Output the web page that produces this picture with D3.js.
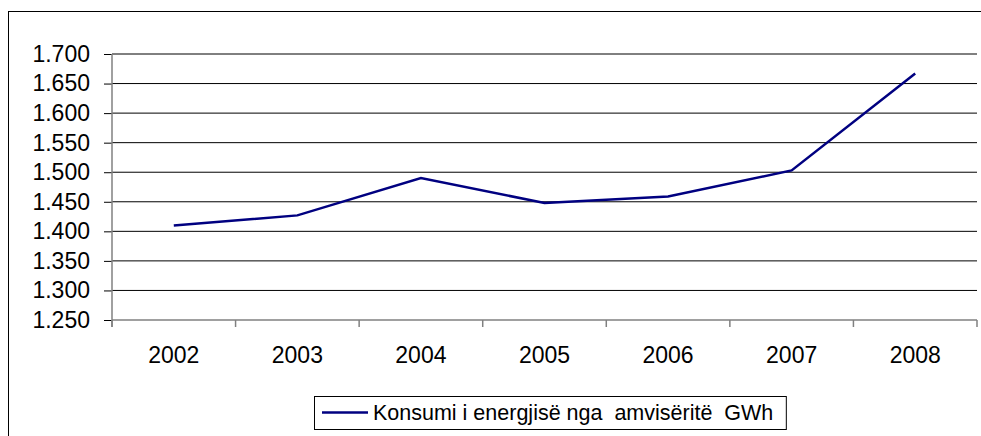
<!DOCTYPE html>
<html>
<head>
<meta charset="utf-8">
<script src="https://cdn.jsdelivr.net/npm/d3@7"></script>
<style>
  html, body { margin: 0; padding: 0; background: #fff; }
  svg { display: block; }
  text { font-family: "Liberation Sans", Arial, sans-serif; }
</style>
</head>
<body>
<svg id="chart" width="981" height="436"></svg>
<script>
const years = ["2002", "2003", "2004", "2005", "2006", "2007", "2008"];
const consumption = [1410, 1427, 1490, 1448, 1459, 1503, 1667];
const yTicks = [1250, 1300, 1350, 1400, 1450, 1500, 1550, 1600, 1650, 1700];
const seriesName = "Konsumi i energjisë nga  amvisëritë  GWh";

(function () {
const svg = d3.select("#chart");
const fontSize = 23;

// outer frame
svg.append("rect")
  .attr("x", 8.5).attr("y", 11.5)
  .attr("width", 1100).attr("height", 600)
  .attr("fill", "none").attr("stroke", "#000").attr("stroke-width", 1);

const pLeft = 112, pRight = 977, pTop = 54, pBottom = 320;

const x = d3.scaleBand().domain(years).range([pLeft, pRight]).padding(0);
const y = d3.scaleLinear().domain([1250, 1700]).range([pBottom, pTop]);

const loc = d3.formatLocale({ decimal: ",", thousands: ".", grouping: [3], currency: ["", ""] });
const fmt = loc.format(",d");

// gridlines
svg.append("g")
  .selectAll("line")
  .data(yTicks.filter(d => d !== 1250))
  .join("line")
  .attr("x1", pLeft).attr("x2", pRight)
  .attr("y1", d => y(d)).attr("y2", d => y(d))
  .attr("stroke", "#000").attr("stroke-width", 1);

// y axis
const yAxis = svg.append("g")
  .attr("transform", `translate(${pLeft},0)`)
  .call(d3.axisLeft(y).tickValues(yTicks).tickFormat(fmt).tickSize(8).tickPadding(14));
yAxis.select(".domain").remove();
yAxis.selectAll(".tick line").attr("stroke", "#000");
yAxis.selectAll("text").attr("font-size", fontSize).attr("fill", "#000")
  .attr("font-family", '"Liberation Sans", Arial, sans-serif');
svg.append("line")
  .attr("x1", pLeft).attr("x2", pLeft).attr("y1", pTop).attr("y2", pBottom + 7)
  .attr("stroke", "#808080").attr("stroke-width", 1.5);

// x axis
svg.append("line")
  .attr("x1", pLeft).attr("x2", pRight).attr("y1", pBottom).attr("y2", pBottom)
  .attr("stroke", "#808080").attr("stroke-width", 1.5);
const boundaries = years.map(d => x(d)).concat([x(years[years.length - 1]) + x.bandwidth()]);
svg.append("g").selectAll("line")
  .data(boundaries)
  .join("line")
  .attr("x1", d => d).attr("x2", d => d)
  .attr("y1", pBottom).attr("y2", pBottom + 7)
  .attr("stroke", "#808080").attr("stroke-width", 1.5);
svg.append("g").selectAll("text")
  .data(years)
  .join("text")
  .attr("x", d => x(d) + x.bandwidth() / 2)
  .attr("y", 363)
  .attr("text-anchor", "middle")
  .attr("font-size", fontSize)
  .attr("fill", "#000")
  .text(d => d);

// line
const line = d3.line()
  .x((d, i) => x(years[i]) + x.bandwidth() / 2)
  .y(d => y(d));
svg.append("path")
  .datum(consumption)
  .attr("d", line)
  .attr("fill", "none")
  .attr("stroke", "#000080")
  .attr("stroke-width", 2.5)
  .attr("stroke-linejoin", "miter");

// legend
const lg = svg.append("g");
const legText = lg.append("text")
  .attr("x", 373).attr("y", 420)
  .attr("font-size", 21.5)
  .attr("fill", "#000")
  .attr("xml:space", "preserve")
  .style("white-space", "pre")
  .text(seriesName);
const tw = legText.node().getComputedTextLength();
lg.insert("rect", "text")
  .attr("x", 314.5).attr("y", 396.5)
  .attr("width", 373 + tw + 13 - 314.5).attr("height", 33)
  .attr("fill", "#fff").attr("stroke", "#000").attr("stroke-width", 1);
lg.append("line")
  .attr("x1", 322).attr("x2", 368).attr("y1", 412.5).attr("y2", 412.5)
  .attr("stroke", "#000080").attr("stroke-width", 2.5);
})();
</script>
</body>
</html>
